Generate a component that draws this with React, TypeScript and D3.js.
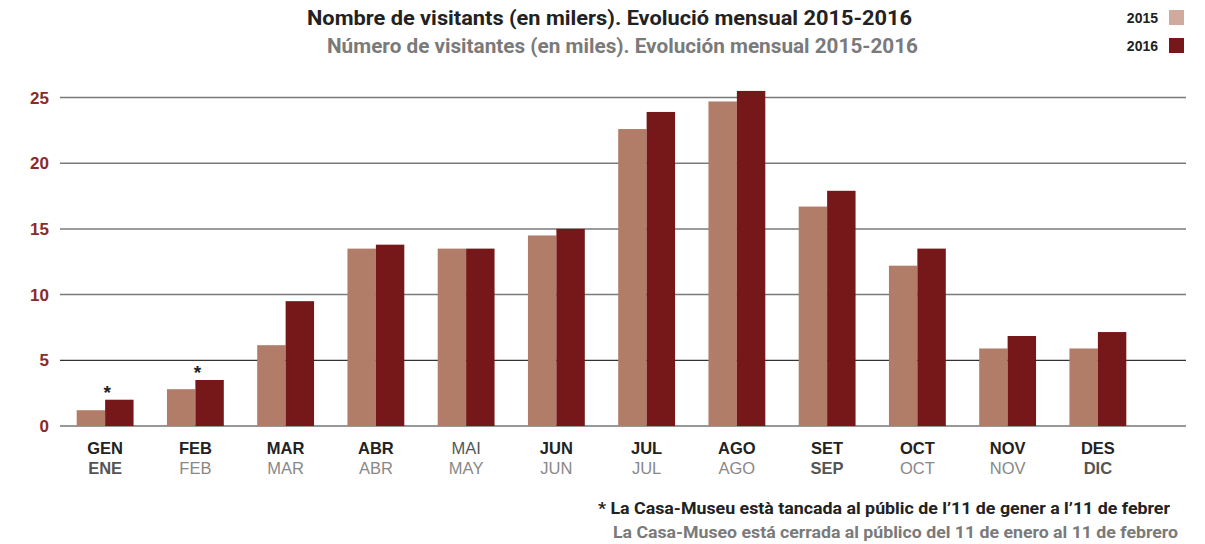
import React from "react";
import * as d3 from "d3";

const monthsCa = ["GEN","FEB","MAR","ABR","MAI","JUN","JUL","AGO","SET","OCT","NOV","DES"];
const monthsEs = ["ENE","FEB","MAR","ABR","MAY","JUN","JUL","AGO","SEP","OCT","NOV","DIC"];
const boldCa = [true,true,true,true,false,true,true,true,true,true,true,true];
const boldEs = [true,false,false,false,false,false,false,false,true,false,false,true];
const series = ["2015","2016"];
const values2015 = [1.2,2.8,6.15,13.5,13.5,14.5,22.6,24.7,16.7,12.2,5.9,5.9];
const values2016 = [2.0,3.5,9.5,13.8,13.5,15.0,23.9,25.5,17.9,13.5,6.85,7.15];
const yTicks = [0,5,10,15,20,25];
const starred = ["GEN","FEB"];

const colors = ["#b27d68","#76181a"];
const legendColors = ["#d0ab9d","#76181a"];
const FONT = "'Liberation Sans', Arial, sans-serif";
const TFONT = "Roboto, 'Noto Sans', sans-serif";

export default function App() {
  const W = 1205, H = 544;
  const x0 = d3.scaleBand<string>().domain(monthsCa).range([60, 1143]).paddingInner(0.37).paddingOuter(0.185);
  const x1 = d3.scaleBand<string>().domain(series).range([0, x0.bandwidth()]);
  const y = d3.scaleLinear().domain([0, 25]).range([426, 97.5]);
  const data = [values2015, values2016];
  return (
    <svg width={W} height={H} style={{ position: "absolute", left: 0, top: 0 }}>
      <rect width={W} height={H} fill="#fff" />
      <text x={307} y={25} fontFamily={TFONT} fontWeight={700} fontSize={20} fill="#222" textLength={605} lengthAdjust="spacingAndGlyphs">
        Nombre de visitants (en milers). Evolució mensual 2015-2016
      </text>
      <text x={327} y={53} fontFamily={TFONT} fontWeight={700} fontSize={20} fill="#7a7a7a" textLength={591} lengthAdjust="spacingAndGlyphs">
        Número de visitantes (en miles). Evolución mensual 2015-2016
      </text>
      {series.map((s, i) => (
        <g key={s}>
          <text x={1158} y={23 + i * 28} textAnchor="end" fontFamily={FONT} fontWeight={700} fontSize={14} fill="#222">{s}</text>
          <rect x={1169} y={10 + i * 28} width={15} height={15} fill={legendColors[i]} />
        </g>
      ))}
      {yTicks.map((t) => (
        <g key={t}>
          <line x1={60} x2={1186} y1={y(t)} y2={y(t)} stroke={t <= 5 ? "#333" : "#7a7a7a"} strokeWidth={t <= 5 ? 1.2 : 1.5} />
          <text x={49} y={y(t) + 6} textAnchor="end" fontFamily={FONT} fontWeight={700} fontSize={17} fill="#8a2a2a">{t}</text>
        </g>
      ))}
      {monthsCa.map((m, i) => (
        <g key={m} transform={`translate(${x0(m)},0)`}>
          {series.map((s, j) => (
            <rect key={s} x={x1(s)} y={y(data[j][i])} width={x1.bandwidth()} height={y(0) - y(data[j][i])} fill={colors[j]} />
          ))}
          {starred.includes(m) && (
            <text x={x0.bandwidth() / 2 + 2} y={y(values2016[i]) - 1} textAnchor="middle" fontFamily={FONT} fontWeight={700} fontSize={19} fill="#222">*</text>
          )}
        </g>
      ))}
      {monthsCa.map((m, i) => {
        const cx = (x0(m) as number) + x0.bandwidth() / 2;
        return (
          <g key={"l" + m}>
            <text x={cx} y={454} textAnchor="middle" fontFamily={FONT} fontWeight={boldCa[i] ? 700 : 400} fontSize={16.5} fill={boldCa[i] ? "#222" : "#555"}>{m}</text>
            <text x={cx} y={474} textAnchor="middle" fontFamily={FONT} fontWeight={boldEs[i] ? 700 : 400} fontSize={16.5} fill={boldEs[i] ? "#555" : "#888"}>{monthsEs[i]}</text>
          </g>
        );
      })}
      <text x={598} y={514} fontFamily={TFONT} fontWeight={700} fontSize={16.5} fill="#222" textLength={572} lengthAdjust="spacingAndGlyphs">
        * La Casa-Museu està tancada al públic de l’11 de gener a l’11 de febrer
      </text>
      <text x={613} y={538} fontFamily={TFONT} fontWeight={700} fontSize={16.5} fill="#7a7a7a" textLength={565} lengthAdjust="spacingAndGlyphs">
        La Casa-Museo está cerrada al público del 11 de enero al 11 de febrero
      </text>
    </svg>
  );
}
